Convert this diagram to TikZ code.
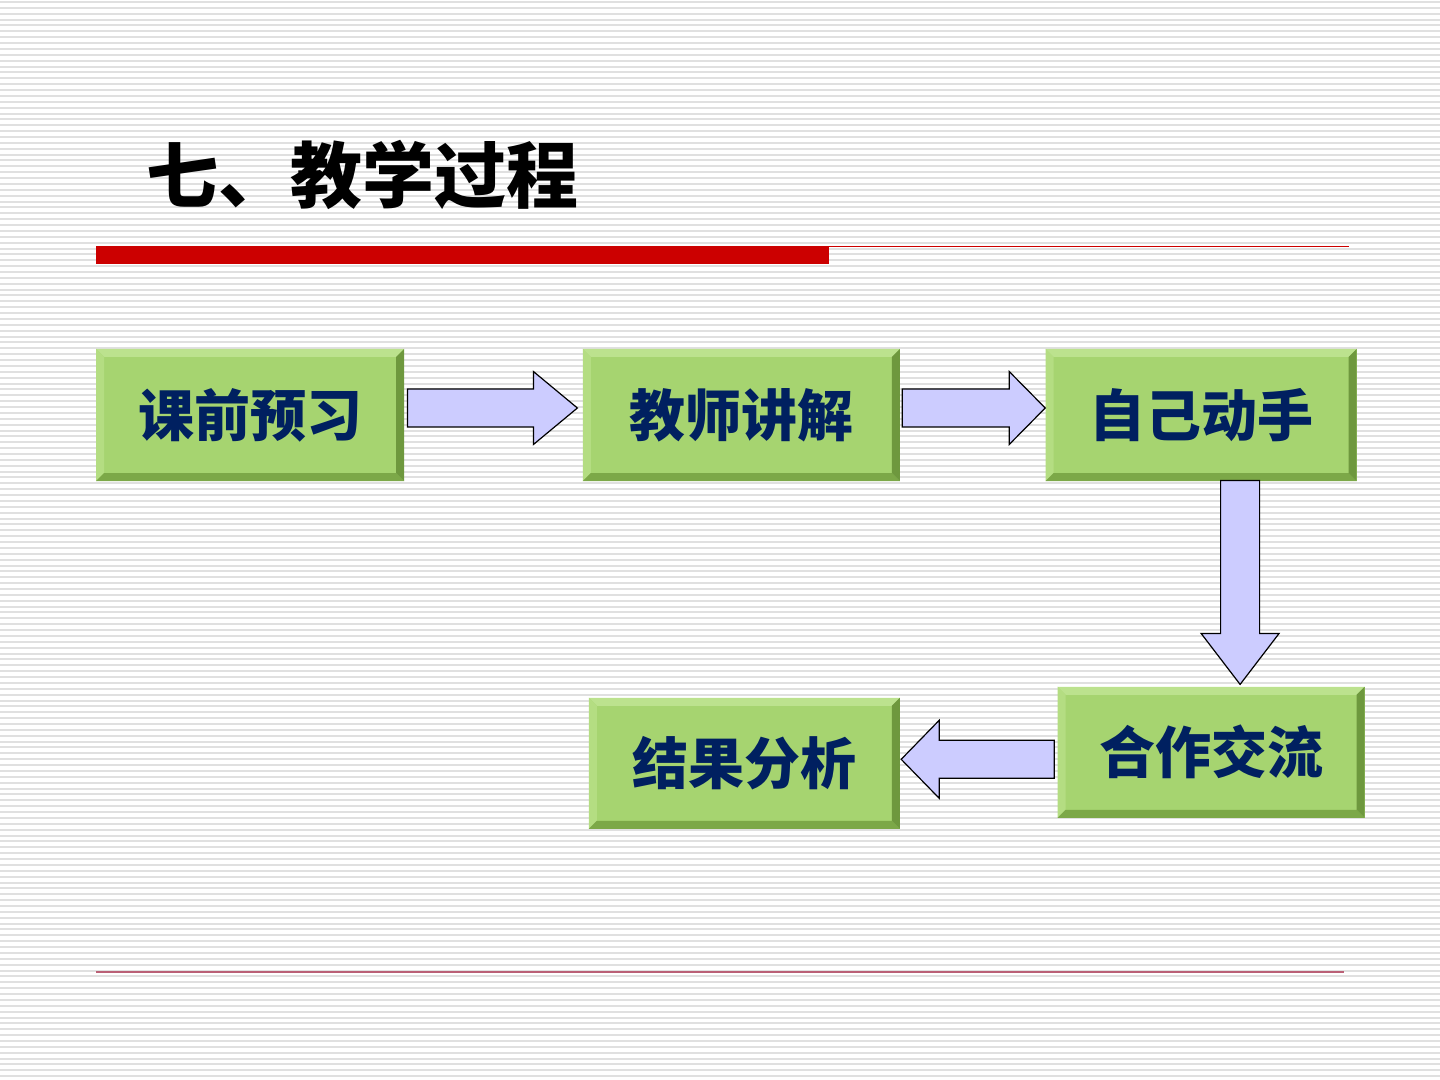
\documentclass[tikz,border=0pt]{standalone}
\usepackage{fontspec}
\newfontfamily\cjk{Noto Sans CJK SC}
\usetikzlibrary{calc,positioning}

\definecolor{panelface}{RGB}{166,212,112}
\definecolor{paneltop}{RGB}{188,226,142}
\definecolor{panelleft}{RGB}{180,221,130}
\definecolor{panelbottom}{RGB}{124,168,72}
\definecolor{panelright}{RGB}{110,152,62}
\definecolor{paneltext}{RGB}{0,32,96}
\definecolor{arrowfill}{RGB}{204,204,255}
\definecolor{stripegray}{RGB}{224,224,224}
\definecolor{barred}{RGB}{204,0,0}
\definecolor{footline}{RGB}{186,96,118}

\newcommand{\ppb}{path picture bounding box}

\begin{document}
\begin{tikzpicture}[x=0.5pt,y=-0.5pt, blockarrow/.style={draw=black, line width=0.6pt, fill=arrowfill, line join=miter}]
		\tikzset{panel/.style={rectangle, inner sep=0pt, fill=panelface, text=paneltext, font=\cjk\bfseries\fontsize{28}{28}\selectfont, minimum height=66pt,
			path picture={
				\fill[paneltop] (\ppb.north west) -- (\ppb.north east) -- ([shift={(-4pt,-4pt)}]\ppb.north east) -- ([shift={(4pt,-4pt)}]\ppb.north west) -- cycle;
				\fill[panelleft] (\ppb.north west) -- ([shift={(4pt,-4pt)}]\ppb.north west) -- ([shift={(4pt,4pt)}]\ppb.south west) -- (\ppb.south west) -- cycle;
				\fill[panelbottom] (\ppb.south west) -- ([shift={(4pt,4pt)}]\ppb.south west) -- ([shift={(-4pt,4pt)}]\ppb.south east) -- (\ppb.south east) -- cycle;
				\fill[panelright] (\ppb.south east) -- ([shift={(-4pt,4pt)}]\ppb.south east) -- ([shift={(-4pt,-4pt)}]\ppb.north east) -- (\ppb.north east) -- cycle;
			}}}

		\useasboundingbox (0,0) rectangle (1440,1080);

		% Background
		\fill[white] (0,0) rectangle (1440,1080);
		\foreach \i in {0,...,183}
			\fill[stripegray] (0,{\i*5.87+1}) rectangle (1440,{\i*5.87+3});

		% Title
		\node[anchor=west, inner sep=0pt, font=\cjk\bfseries\fontsize{36}{36}\selectfont] (title) at (146,175) {七、教学过程};
		\fill[barred] (96,246) rectangle (829,264);
		\draw[barred, line width=0.6pt] (829,246.5) -- (1349,246.5);

		% Steps
		\node[panel, minimum width=154pt] (yuxi) at (250,415) {课前预习};
		\node[panel, minimum width=158.5pt, right=89pt of yuxi] (jiangjie) {教师讲解};
		\node[panel, minimum width=155.5pt, right=72.5pt of jiangjie] (dongshou) {自己动手};
		\node[panel, minimum width=153.5pt, minimum height=65.5pt, below=102.5pt of dongshou, xshift=5pt] (jiaoliu) {合作交流};
		\node[panel, minimum width=155.5pt, minimum height=65.5pt, left=78.5pt of jiaoliu, yshift=-5.5pt] (fenxi) {结果分析};

		% Arrows
		\coordinate (a1) at ([shift={(3,-7)}]yuxi.east);
		\coordinate (a1t) at ([shift={(-5,-7)}]jiangjie.west);
		\draw[blockarrow] ($(a1)+(0,-19)$) -- ($(a1t)+(-44,-19)$) -- ($(a1t)+(-44,-36.5)$) -- (a1t) -- ($(a1t)+(-44,36.5)$) -- ($(a1t)+(-44,19)$) -- ($(a1)+(0,19)$) -- cycle;

		\coordinate (a2) at ([shift={(2,-7)}]jiangjie.east);
		\coordinate (a2t) at ([shift={(0,-7)}]dongshou.west);
		\draw[blockarrow] ($(a2)+(0,-19)$) -- ($(a2t)+(-36,-19)$) -- ($(a2t)+(-36,-36.5)$) -- (a2t) -- ($(a2t)+(-36,36.5)$) -- ($(a2t)+(-36,19)$) -- ($(a2)+(0,19)$) -- cycle;

		\coordinate (a3) at ([shift={(39,-1)}]dongshou.south);
		\coordinate (a3t) at ([shift={(29,-2)}]jiaoliu.north);
		\draw[blockarrow] ($(a3)+(-19.5,0)$) -- ($(a3t)+(-19.5,-51)$) -- ($(a3t)+(-39,-51)$) -- (a3t) -- ($(a3t)+(39,-51)$) -- ($(a3t)+(19.5,-51)$) -- ($(a3)+(19.5,0)$) -- cycle;

		\coordinate (a4) at ([shift={(-3,7)}]jiaoliu.west);
		\coordinate (a4t) at ([shift={(1,-4)}]fenxi.east);
		\draw[blockarrow] ($(a4)+(0,-19)$) -- ($(a4t)+(38,-19)$) -- ($(a4t)+(38,-39)$) -- (a4t) -- ($(a4t)+(38,39)$) -- ($(a4t)+(38,19)$) -- ($(a4)+(0,19)$) -- cycle;

		% Footer
		\draw[footline, line width=0.6pt] (96,972) -- (1344,972);
	\end{tikzpicture}
\end{document}
